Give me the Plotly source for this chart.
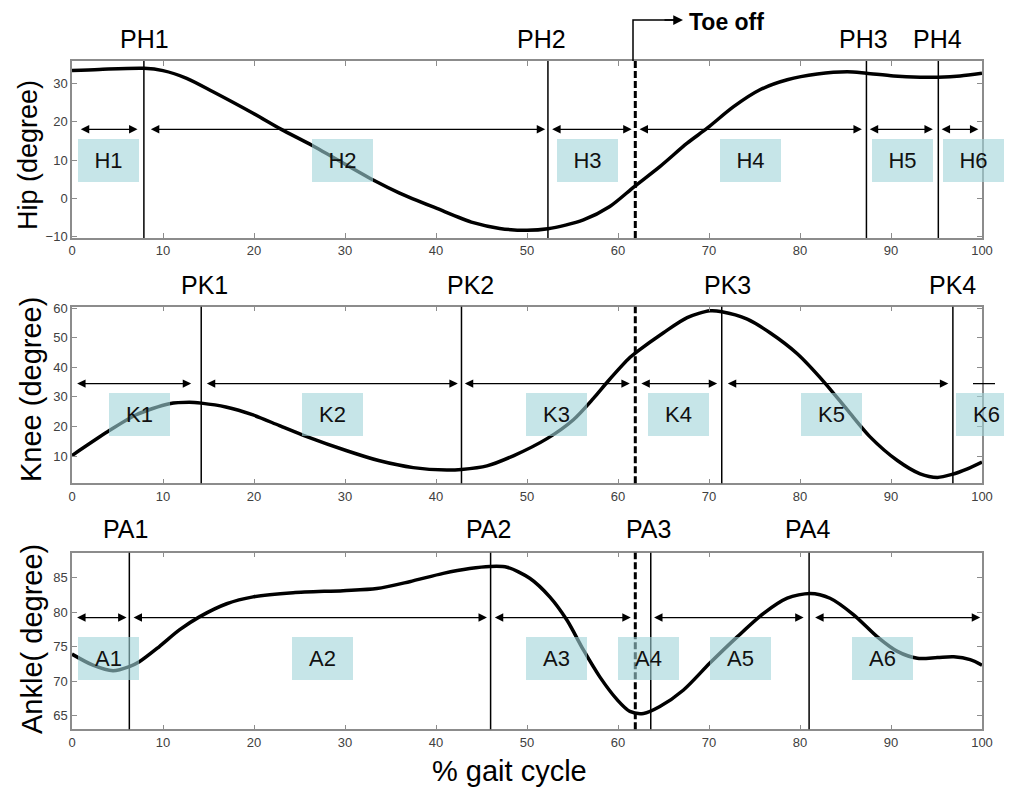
import plotly.graph_objects as go

# ---------------- data ----------------
hip_x = [0, 3, 7.9, 10, 12.6, 15.5, 19.9, 23, 26.4, 33.1, 36, 40.1, 44.1, 47, 50, 52.3, 56.2, 59.1,
         61.8, 64.6, 67.6, 69.8, 72.7, 75.6, 78.6, 81.9, 85.2, 87.3, 90.3, 93.2, 95.2, 97.6, 100]
hip_y = [33.3, 33.6, 33.9, 33.3, 31.3, 27.8, 22.2, 18.0, 13.8, 4.8, 1.4, -2.6, -6.3, -7.8, -8.3, -7.9, -5.6, -2.1,
         3.1, 8.3, 14.4, 18.3, 23.9, 28.3, 30.9, 32.4, 33.0, 32.6, 31.9, 31.6, 31.6, 31.9, 32.6]

knee_x = [0, 3.9, 7, 10.7, 12.9, 14.2, 16.9, 19.9, 22.8, 25.8, 30.2, 33.8, 37.5, 41.2, 42.8, 45.6, 48.5,
          52.2, 55.1, 57.3, 58.9, 61.3, 62.1, 65, 67.6, 70.1, 71.4, 74.2, 76.7, 79.7, 82.6, 85.2, 87.7,
          90.7, 93.2, 95.1, 96.7, 98.4, 100]
knee_y = [10.2, 18.2, 23.9, 27.7, 28.2, 27.9, 26.6, 23.9, 20.3, 16.6, 11.8, 8.4, 6.1, 5.3, 5.5, 6.7, 10.1,
          15.9, 22.3, 29.5, 35.3, 43.3, 45.3, 51.7, 56.8, 59.1, 58.8, 56.3, 51.7, 44.6, 35.2, 25.6, 16.5,
          8.5, 4.0, 2.8, 3.8, 5.7, 8.0]

ankle_x = [0, 2.3, 4.5, 6.3, 7.4, 9.6, 11.8, 14, 17, 19.9, 24.3, 29.8, 33.5, 37.1, 40.8, 43.7, 45.9, 47.8,
           50.3, 52.5, 54.4, 56.2, 58, 59.9, 61.3, 62.8, 64.6, 67.2, 70.1, 73.1, 76, 78.6, 81.1, 83.3,
           85.9, 88.5, 90.7, 92.9, 95.1, 96.9, 98.7, 100]
ankle_y = [73.9, 72.3, 71.5, 72.1, 72.8, 75.0, 77.4, 79.3, 81.2, 82.2, 82.8, 83.1, 83.4, 84.4, 85.6, 86.3, 86.6,
           86.5, 84.9, 82.2, 78.8, 74.5, 70.6, 67.3, 65.6, 65.3, 66.3, 68.7, 72.6, 76.4, 79.8, 82.0, 82.7,
           82.0, 79.6, 76.4, 74.3, 73.3, 73.4, 73.5, 73.1, 72.3]

toe_off = 61.9

hip_events = [7.9, 52.3, 87.3, 95.2]
knee_events = [14.2, 42.8, 71.4, 96.8]
ankle_events = [6.3, 46.0, 63.6, 81.0]

hip_peak_labels = ["PH1", "PH2", "PH3", "PH4"]
knee_peak_labels = ["PK1", "PK2", "PK3", "PK4"]
ankle_peak_labels = ["PA1", "PA2", "PA3", "PA4"]

hip_phases = ["H1", "H2", "H3", "H4", "H5", "H6"]
knee_phases = ["K1", "K2", "K3", "K4", "K5", "K6"]
ankle_phases = ["A1", "A2", "A3", "A4", "A5", "A6"]

hip_arrows = [(0.8, 7.2), (8.5, 52.0), (52.6, 61.5), (62.2, 86.8), (87.5, 94.6), (95.4, 99.6)]
knee_arrows = [(0.4, 13.1), (14.65, 42.4), (43.0, 61.3), (62.4, 70.9), (71.9, 96.3)]
ankle_arrows = [(0.4, 6.0), (6.6, 45.6), (46.3, 61.4), (63.8, 80.4), (81.5, 99.8)]

x_ticks = list(range(0, 101, 10))
hip_ticks = [-10, 0, 10, 20, 30]
knee_ticks = [10, 20, 30, 40, 50, 60]
ankle_ticks = [65, 70, 75, 80, 85]

# ---------------- layout helpers ----------------
# the page body has an 8px margin, so the figure is drawn 8px in from the window corner
OFF = 8
W, H = 996, 782
ML, MR, MT, MB = 64, 22, 2, 2
PW = W - ML - MR
PH = H - MT - MB


def pxp(ref_px):
    """reference-window x pixel -> paper x"""
    return (ref_px - OFF - ML) / PW


def pyp(ref_py):
    """reference-window y pixel -> paper y"""
    return (H - MB - (ref_py - OFF)) / PH


FONT = "Liberation Sans, Arial, sans-serif"
panels = [
    dict(name="Hip", x=hip_x, y=hip_y, top=61, bot=238, rng=[-10.3, 35.8], ticks=hip_ticks,
         events=hip_events, plabels=hip_peak_labels,
         plabel_px=[144, 541, 863, 937], plabel_py=39,
         phases=hip_phases, box_px=[108.7, 342.8, 587.2, 750, 902.3, 973.7], box_y=9.8,
         arrows=hip_arrows, arrow_y=18.0,
         title="Hip (degree)", title_px=28, title_py=155, title_size=27),
    dict(name="Knee", x=knee_x, y=knee_y, top=306.7, bot=483.3, rng=[0.8, 60.5], ticks=knee_ticks,
         events=knee_events, plabels=knee_peak_labels,
         plabel_px=[204, 470, 727, 952], plabel_py=285,
         phases=knee_phases, box_px=[139.5, 332.5, 556.7, 678.8, 831.7, 986.5], box_y=24.0,
         arrows=knee_arrows, arrow_y=34.5,
         title="Knee (degree)", title_px=31, title_py=390, title_size=29),
    dict(name="Ankle", x=ankle_x, y=ankle_y, top=552.7, bot=729.3, rng=[63.0, 88.6], ticks=ankle_ticks,
         events=ankle_events, plabels=ankle_peak_labels,
         plabel_px=[125, 488, 648, 807], plabel_py=529,
         phases=ankle_phases, box_px=[108.7, 322.8, 556.7, 648.3, 740, 882.7], box_y=73.2,
         arrows=ankle_arrows, arrow_y=79.2,
         title="Ankle( degree)", title_px=32, title_py=639, title_size=29),
]

fig = go.Figure()
shapes = []
annotations = []
layout_axes = {}

for i, p in enumerate(panels):
    n = "" if i == 0 else str(i + 1)
    xa, ya = "x" + n, "y" + n
    fig.add_trace(go.Scatter(x=p["x"], y=p["y"], mode="lines", xaxis=xa, yaxis=ya,
                             line=dict(color="black", width=3.5, shape="spline", smoothing=0.8),
                             showlegend=False, hoverinfo="skip"))
    common = dict(showline=True, linecolor="#8c8c8c", linewidth=1.5, mirror="allticks",
                  ticks="inside", ticklen=5, tickcolor="#8c8c8c", tickwidth=1.2,
                  showgrid=False, zeroline=False, automargin=False,
                  tickfont=dict(family=FONT, size=13, color="#404040"))
    layout_axes["xaxis" + n] = dict(common, domain=[0, 1], range=[0, 100], tickvals=x_ticks,
                                    anchor=ya)
    layout_axes["yaxis" + n] = dict(common, domain=[pyp(p["bot"]), pyp(p["top"])],
                                    range=p["rng"], tickvals=p["ticks"], anchor=xa)

    # event lines
    for ev in p["events"]:
        shapes.append(dict(type="line", xref=xa, yref=ya + " domain", x0=ev, x1=ev, y0=0, y1=1,
                           line=dict(color="black", width=1.5)))
    shapes.append(dict(type="line", xref=xa, yref=ya + " domain", x0=toe_off, x1=toe_off, y0=0, y1=1,
                       line=dict(color="black", width=3, dash="7px,3px")))

    # double arrows
    for (a0, a1) in p["arrows"]:
        annotations.append(dict(x=a1, y=p["arrow_y"], ax=a0, ay=p["arrow_y"], xref=xa, yref=ya,
                                axref=xa, ayref=ya, text="", showarrow=True, arrowside="end+start",
                                arrowhead=2, startarrowhead=2, arrowsize=1.3, startarrowsize=1.3,
                                arrowwidth=1.3, arrowcolor="black", standoff=0, startstandoff=0))

    # peak labels
    for lab, px in zip(p["plabels"], p["plabel_px"]):
        annotations.append(dict(x=pxp(px), y=pyp(p["plabel_py"]), xref="paper", yref="paper",
                                text=lab, showarrow=False, xanchor="center", yanchor="middle",
                                font=dict(family=FONT, size=25, color="black")))

    # phase boxes
    for lab, px in zip(p["phases"], p["box_px"]):
        annotations.append(dict(x=pxp(px), y=p["box_y"], xref="paper", yref=ya,
                                text=lab, showarrow=False, xanchor="center", yanchor="middle",
                                width=59, height=41, borderpad=1, borderwidth=0,
                                bgcolor="rgba(160,212,216,0.6)",
                                font=dict(family=FONT, size=22, color="#111")))

    # axis title
    annotations.append(dict(x=pxp(p["title_px"]), y=pyp(p["title_py"]), xref="paper",
                            yref="paper", text=p["title"], textangle=-90, showarrow=False,
                            xanchor="center", yanchor="middle",
                            font=dict(family=FONT, size=p["title_size"], color="black")))

# knee: short tail segment beyond the right frame
shapes.append(dict(type="line", xref="paper", yref="y2", x0=pxp(973), x1=pxp(995),
                   y0=34.5, y1=34.5, line=dict(color="black", width=1.3)))

# toe off connector
tx = pxp(633)
shapes.append(dict(type="path", xref="paper", yref="paper",
                   path=f"M {tx},{pyp(61)} L {tx},{pyp(20)} L {pxp(676)},{pyp(20)}",
                   line=dict(color="black", width=1.5)))
annotations.append(dict(x=pxp(683), y=pyp(20), xref="paper", yref="paper", text="",
                        ax=-20, ay=0, showarrow=True, arrowhead=2, arrowsize=1.3, arrowwidth=1.5,
                        arrowcolor="black", standoff=0))
annotations.append(dict(x=pxp(688), y=pyp(22), xref="paper", yref="paper",
                        text="<b>Toe off</b>", showarrow=False, xanchor="left", yanchor="middle",
                        borderpad=0, font=dict(family=FONT, size=23, color="black")))

# x title
annotations.append(dict(x=pxp(509), y=pyp(771), xref="paper", yref="paper",
                        text="% gait cycle", showarrow=False, xanchor="center", yanchor="middle",
                        borderpad=0, font=dict(family=FONT, size=29, color="black")))

fig.update_layout(width=W, height=H, margin=dict(l=ML, r=MR, t=MT, b=MB),
                  paper_bgcolor="white", plot_bgcolor="white",
                  shapes=shapes, annotations=annotations, showlegend=False, **layout_axes)

fig.write_html("out.html")
